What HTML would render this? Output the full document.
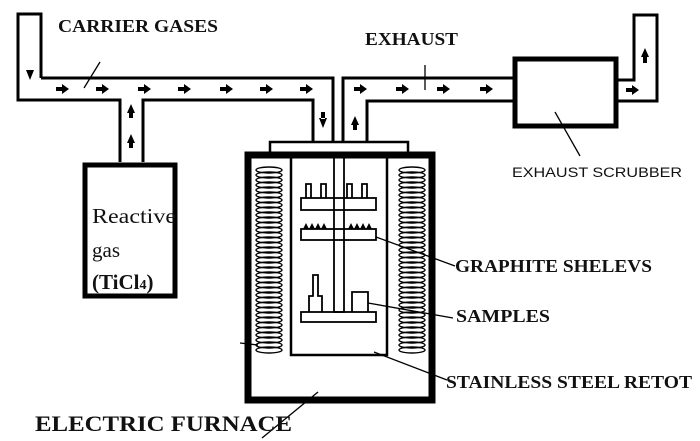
<!DOCTYPE html>
<html><head><style>body{margin:0;background:#fff}svg{display:block}</style></head>
<body>
<svg width="700" height="441" viewBox="0 0 700 441" xmlns="http://www.w3.org/2000/svg">
<defs>
<path id="r" d="M0,-2 h6 v-3 l7,5 l-7,5 v-3 h-6z" fill="#000"/>
</defs>
<g fill="none" stroke="#000" stroke-width="3">
<path d="M41,78 V14 H18 V100 H120 V162"/>
<path d="M143,162 V100 H313 V143"/>
<path d="M41,78 H333 V143"/>
<path d="M343,143 V78 H513"/>
<path d="M367,143 V101 H513"/>
<path d="M618,80 H634 V15 H657 V101 H618"/>
</g>
<rect x="515" y="59" width="101" height="67" fill="none" stroke="#000" stroke-width="5"/>
<rect x="85" y="165" width="90" height="131" fill="none" stroke="#000" stroke-width="5"/>
<g fill="#000">
<path d="M26,70 l4,10 l4,-10z"/>
<use href="#r" x="56" y="89"/><use href="#r" x="96" y="89"/><use href="#r" x="138" y="89"/><use href="#r" x="178" y="89"/><use href="#r" x="220" y="89"/><use href="#r" x="260" y="89"/><use href="#r" x="300" y="89"/>
<use href="#r" x="354" y="89"/><use href="#r" x="396" y="89"/><use href="#r" x="437" y="89"/><use href="#r" x="480" y="89"/><use href="#r" x="626" y="90"/>
<path d="M127,113 l4,-9 l4,9z M129,113 h4 v5 h-4z"/>
<path d="M127,143 l4,-9 l4,9z M129,143 h4 v5 h-4z"/>
<path d="M319,118 l4,10 l4,-10z M321,112 h4 v7 h-4z"/>
<path d="M351,125 l4,-9 l4,9z M353,125 h4 v5 h-4z"/>
<path d="M641,57 l4,-9 l4,9z M643,57 h4 v6 h-4z"/>
</g>
<rect x="270" y="142" width="138" height="11" fill="none" stroke="#000" stroke-width="2.5"/>
<rect x="248" y="155" width="184" height="245" fill="none" stroke="#000" stroke-width="7"/>
<path d="M291,155 V355 H387 V155" fill="none" stroke="#000" stroke-width="2.5"/>
<g fill="none" stroke="#000" stroke-width="1.8">
<rect x="334" y="155" width="10" height="157"/>
<rect x="301" y="198" width="75" height="12"/>
<rect x="301" y="229" width="75" height="11"/>
<rect x="301" y="312" width="75" height="10"/>
<path d="M306,198 v-14 h5 v14 M321,198 v-14 h5 v14 M347,198 v-14 h5 v14 M362,198 v-14 h5 v14"/>
<path d="M309,312 v-16 h4 v-21 h5 v21 h4 v16 M352,312 v-20 h16 v20"/>
</g>
<g fill="#000"><path d="M303,229 l3,-6 l3,6 l3,-6 l3,6 l3,-6 l3,6 l3,-6 l3,6z M348,229 l3,-6 l3,6 l3,-6 l3,6 l3,-6 l3,6 l3,-6 l3,6z"/></g>
<g fill="none" stroke="#000" stroke-width="1.4" id="coil">
<ellipse cx="269" cy="170" rx="13" ry="3"/><ellipse cx="269" cy="175" rx="13" ry="3"/><ellipse cx="269" cy="180" rx="13" ry="3"/><ellipse cx="269" cy="185" rx="13" ry="3"/><ellipse cx="269" cy="190" rx="13" ry="3"/><ellipse cx="269" cy="195" rx="13" ry="3"/><ellipse cx="269" cy="200" rx="13" ry="3"/><ellipse cx="269" cy="205" rx="13" ry="3"/><ellipse cx="269" cy="210" rx="13" ry="3"/><ellipse cx="269" cy="215" rx="13" ry="3"/><ellipse cx="269" cy="220" rx="13" ry="3"/><ellipse cx="269" cy="225" rx="13" ry="3"/><ellipse cx="269" cy="230" rx="13" ry="3"/><ellipse cx="269" cy="235" rx="13" ry="3"/><ellipse cx="269" cy="240" rx="13" ry="3"/><ellipse cx="269" cy="245" rx="13" ry="3"/><ellipse cx="269" cy="250" rx="13" ry="3"/><ellipse cx="269" cy="255" rx="13" ry="3"/><ellipse cx="269" cy="260" rx="13" ry="3"/><ellipse cx="269" cy="265" rx="13" ry="3"/><ellipse cx="269" cy="270" rx="13" ry="3"/><ellipse cx="269" cy="275" rx="13" ry="3"/><ellipse cx="269" cy="280" rx="13" ry="3"/><ellipse cx="269" cy="285" rx="13" ry="3"/><ellipse cx="269" cy="290" rx="13" ry="3"/><ellipse cx="269" cy="295" rx="13" ry="3"/><ellipse cx="269" cy="300" rx="13" ry="3"/><ellipse cx="269" cy="305" rx="13" ry="3"/><ellipse cx="269" cy="310" rx="13" ry="3"/><ellipse cx="269" cy="315" rx="13" ry="3"/><ellipse cx="269" cy="320" rx="13" ry="3"/><ellipse cx="269" cy="325" rx="13" ry="3"/><ellipse cx="269" cy="330" rx="13" ry="3"/><ellipse cx="269" cy="335" rx="13" ry="3"/><ellipse cx="269" cy="340" rx="13" ry="3"/><ellipse cx="269" cy="345" rx="13" ry="3"/><ellipse cx="269" cy="350" rx="13" ry="3"/>
</g>
<use href="#coil" x="143"/>
<g stroke="#000" stroke-width="1.3" fill="none">
<path d="M84,88 L100,62"/>
<path d="M425,65 V90"/>
<path d="M555,112 L580,156"/>
<path d="M376,237 L455,266"/>
<path d="M368,303 L453,318"/>
<path d="M374,352 L447,380"/>
<path d="M318,392 L262,438"/>
<path d="M240,343 L258,345"/>
</g>
<g font-family="Liberation Serif, serif" font-weight="bold" fill="#111">
<text x="58" y="32" font-size="18" textLength="160" lengthAdjust="spacingAndGlyphs">CARRIER GASES</text>
<text x="365" y="45" font-size="18" textLength="93" lengthAdjust="spacingAndGlyphs">EXHAUST</text>
<text x="455" y="272" font-size="18" textLength="197" lengthAdjust="spacingAndGlyphs">GRAPHITE SHELEVS</text>
<text x="456" y="322" font-size="18" textLength="94" lengthAdjust="spacingAndGlyphs">SAMPLES</text>
<text x="446" y="388" font-size="18" textLength="246" lengthAdjust="spacingAndGlyphs">STAINLESS STEEL RETOT</text>
<text x="35" y="431" font-size="22" textLength="257" lengthAdjust="spacingAndGlyphs">ELECTRIC FURNACE</text>
</g>
<text x="512" y="177" font-family="Liberation Sans, sans-serif" font-size="13.5" fill="#111" textLength="170" lengthAdjust="spacingAndGlyphs">EXHAUST SCRUBBER</text>
<g font-family="Liberation Serif, serif" font-size="21" fill="#111">
<text x="92" y="223" textLength="84" lengthAdjust="spacingAndGlyphs">Reactive</text>
<text x="92" y="257">gas</text>
<text x="92" y="289" font-weight="bold">(TiCl<tspan font-size="14">4</tspan>)</text>
</g>
</svg>
</body></html>
